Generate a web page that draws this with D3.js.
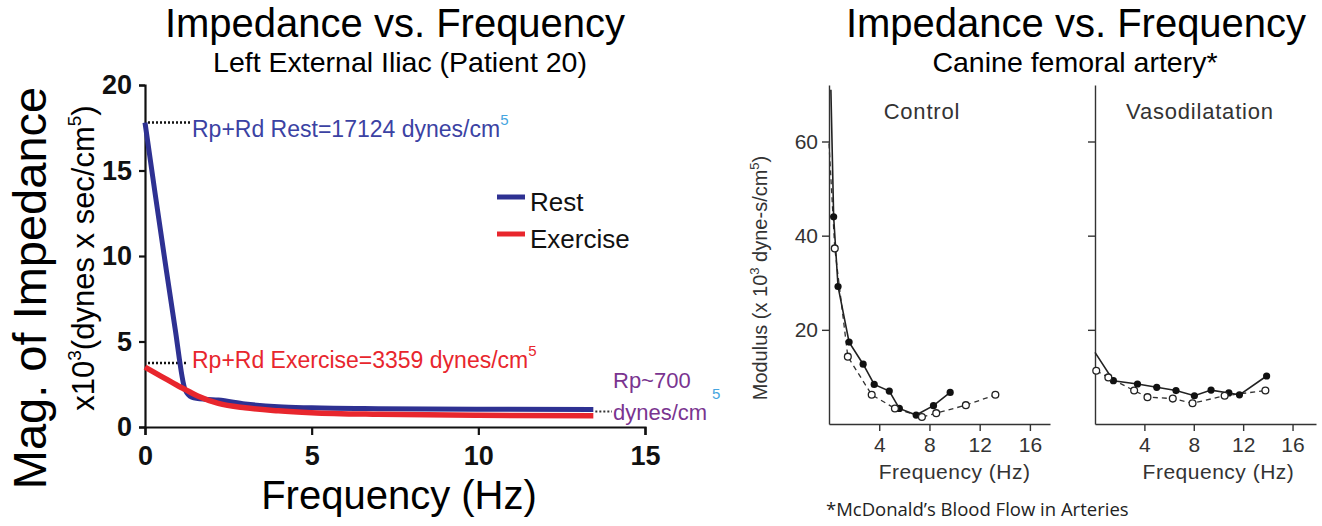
<!DOCTYPE html>
<html>
<head>
<meta charset="utf-8">
<script src="https://cdn.jsdelivr.net/npm/d3@7"></script>
<style>
body { margin: 0; background: #fff; }
svg text { font-family: "Liberation Sans", Arial, sans-serif; }
</style>
</head>
<body>
<svg id="chart" width="1322" height="526"></svg>
<script>
// ---- left chart data (x10^3 dynes*sec/cm^5) ----
var restFreq = [0, 0.3, 0.6, 0.9, 1.2, 1.4, 1.8, 2.2, 3, 4, 5, 7, 10, 13.45];
var restMag  = [17.8, 13.7, 9.7, 5.8, 2.2, 1.75, 1.62, 1.58, 1.35, 1.18, 1.12, 1.07, 1.04, 1.03];
var exFreq   = [0, 0.5, 1.0, 1.2, 1.6, 2.2, 3, 4, 5, 7, 10, 13.45];
var exMag    = [3.5, 2.95, 2.4, 2.2, 1.8, 1.38, 1.12, 0.95, 0.84, 0.74, 0.68, 0.66];
var leftXTicks = [0, 5, 10, 15];
var leftYTicks = [0, 5, 10, 15, 20];
var legendNames = ["Rest", "Exercise"];
var guideValues = [17.8, 3.75, 0.9];   // dotted guides: rest, exercise, Rp
var annoTexts = ["Rp+Rd Rest=17124 dynes/cm", "Rp+Rd Exercise=3359 dynes/cm"];

// ---- right chart data (McDonald, canine femoral artery, x10^3) ----
var panelNames = ["Control", "Vasodilatation"];
var ctrlSolidFreq = [0.15, 0.37, 0.72, 1.6, 2.72, 3.6, 4.8, 5.6, 6.94, 8.32, 9.65];
var ctrlSolidMod  = [71, 44.0, 29.2, 17.4, 12.7, 8.4, 7.0, 3.3, 1.9, 3.9, 6.7];
var ctrlOpenFreq  = [0, 0.46, 1.5, 3.4, 5.25, 7.4, 8.54, 10.9, 13.25];
var ctrlOpenMod   = [59.6, 37.3, 14.3, 6.2, 3.3, 1.5, 2.3, 4.0, 6.2];
var vasoSolidFreq = [0, 1.49, 3.44, 5.0, 6.56, 8.05, 9.4, 10.84, 11.7, 13.9];
var vasoSolidMod  = [15.2, 9.2, 8.5, 7.8, 7.1, 6.0, 7.2, 6.6, 6.2, 10.2];
var vasoOpenFreq  = [0.1, 1.08, 3.17, 4.25, 6.3, 7.9, 10.5, 13.8];
var vasoOpenMod   = [11.3, 9.9, 7.1, 5.7, 5.4, 4.4, 6.0, 7.1];
var rightXTicks = [4, 8, 12, 16];
var rightYTicks = [20, 40, 60];

var blue = "#2e3192", red = "#e8262d";

var svg = d3.select("#chart");
svg.append("rect").attr("width", 1322).attr("height", 526).attr("fill", "#fff");

function zip(xs, ys) {
    return xs.map(function(d, i) { return {f: d, v: ys[i]}; });
}

// =================== left chart ===================
var x = d3.scaleLinear().domain([0, 15]).range([145, 645]);
var y = d3.scaleLinear().domain([0, 20]).range([427, 85]);

svg.append("text")
    .attr("x", 395).attr("y", 37)
    .attr("text-anchor", "middle")
    .attr("font-size", 40)
    .text("Impedance vs. Frequency");
svg.append("text")
    .attr("x", 400).attr("y", 72)
    .attr("text-anchor", "middle")
    .attr("font-size", 28.5)
    .text("Left External Iliac (Patient 20)");

var xAxis = svg.append("g")
    .attr("transform", "translate(0," + y(0) + ")")
    .call(d3.axisBottom(x).tickValues(leftXTicks).tickSize(8).tickPadding(11));
var yAxis = svg.append("g")
    .attr("transform", "translate(" + x(0) + ",0)")
    .call(d3.axisLeft(y).tickValues(leftYTicks).tickSize(6).tickPadding(7));
[xAxis, yAxis].forEach(function(g) {
    g.selectAll("path, line").attr("stroke", "#111").attr("stroke-width", 2.2);
    g.selectAll("text")
        .attr("fill", "#111")
        .attr("font-size", 27)
        .attr("font-weight", "bold")
        .style("font-family", "'Liberation Sans', Arial, sans-serif");
});

// axis titles
svg.append("text")
    .attr("transform", "translate(46,288) rotate(-90)")
    .attr("text-anchor", "middle")
    .attr("font-size", 47)
    .text("Mag. of Impedance");
var yt2 = svg.append("text")
    .attr("transform", "translate(94,258) rotate(-90)")
    .attr("text-anchor", "middle")
    .attr("font-size", 31);
yt2.append("tspan").text("x10");
yt2.append("tspan").attr("font-size", 19).attr("dy", -13).text("3");
yt2.append("tspan").attr("dy", 13).text("(dynes x sec/cm");
yt2.append("tspan").attr("font-size", 19).attr("dy", -13).text("5");
yt2.append("tspan").attr("dy", 13).text(")");

svg.append("text")
    .attr("x", 399).attr("y", 509)
    .attr("text-anchor", "middle")
    .attr("font-size", 40)
    .text("Frequency (Hz)");

// dotted guides
svg.append("line")
    .attr("x1", x(0) + 3).attr("x2", 190)
    .attr("y1", y(guideValues[0])).attr("y2", y(guideValues[0]))
    .attr("stroke", "#111").attr("stroke-width", 2.5).attr("stroke-dasharray", "2,2");
svg.append("line")
    .attr("x1", x(0) + 3).attr("x2", 188)
    .attr("y1", y(guideValues[1])).attr("y2", y(guideValues[1]))
    .attr("stroke", "#111").attr("stroke-width", 2.5).attr("stroke-dasharray", "2,2");
svg.append("line")
    .attr("x1", x(restFreq[restFreq.length - 1]) + 2).attr("x2", 612)
    .attr("y1", y(guideValues[2])).attr("y2", y(guideValues[2]))
    .attr("stroke", "#333").attr("stroke-width", 2).attr("stroke-dasharray", "2,2");

var line = d3.line()
    .x(function(d) { return x(d.f); })
    .y(function(d) { return y(d.v); })
    .curve(d3.curveMonotoneX);

svg.append("path")
    .datum(zip(restFreq, restMag))
    .attr("fill", "none").attr("stroke", blue).attr("stroke-width", 5)
    .attr("d", line);
svg.append("path")
    .datum(zip(exFreq, exMag))
    .attr("fill", "none").attr("stroke", red).attr("stroke-width", 5.5)
    .attr("d", line);

// annotations
var a1 = svg.append("text")
    .attr("x", 192).attr("y", 137)
    .attr("font-size", 23).attr("fill", "#3b42a3");
a1.append("tspan").text(annoTexts[0]);
a1.append("tspan").attr("font-size", 15).attr("dy", -12).attr("fill", "#45a5e0").text("5");
var a2 = svg.append("text")
    .attr("x", 192).attr("y", 368)
    .attr("font-size", 23).attr("fill", red);
a2.append("tspan").text(annoTexts[1]);
a2.append("tspan").attr("font-size", 15).attr("dy", -12).text("5");

svg.append("text")
    .attr("x", 613).attr("y", 388)
    .attr("font-size", 22).attr("fill", "#7a3490")
    .text("Rp~700");
svg.append("text")
    .attr("x", 613).attr("y", 420)
    .attr("font-size", 22).attr("fill", "#7a3490")
    .text("dynes/cm");
svg.append("text")
    .attr("x", 712).attr("y", 399)
    .attr("font-size", 15).attr("fill", "#45a5e0")
    .text("5");

// legend
var legend = svg.selectAll(".legend")
    .data(legendNames)
    .enter().append("g")
    .attr("class", "legend")
    .attr("transform", function(d, i) { return "translate(497," + (197 + i * 37) + ")"; });
legend.append("line")
    .attr("x1", 0).attr("x2", 28)
    .attr("stroke", function(d, i) { return i == 0 ? blue : red; })
    .attr("stroke-width", 5);
legend.append("text")
    .attr("x", 33).attr("y", 14)
    .attr("font-size", 26).attr("fill", "#111")
    .text(function(d) { return d; });

// =================== right chart ===================
svg.append("text")
    .attr("x", 1076).attr("y", 37)
    .attr("text-anchor", "middle")
    .attr("font-size", 40)
    .text("Impedance vs. Frequency");
svg.append("text")
    .attr("x", 1075).attr("y", 72)
    .attr("text-anchor", "middle")
    .attr("font-size", 28.5)
    .text("Canine femoral artery*");

var ry = d3.scaleLinear().domain([0, 72]).range([424, 85]);
var panelX = [
    d3.scaleLinear().domain([0, 17.6]).range([829, 1050]),
    d3.scaleLinear().domain([0, 17.9]).range([1095, 1316])
];
var panelData = [
    {solid: zip(ctrlSolidFreq, ctrlSolidMod), open: zip(ctrlOpenFreq, ctrlOpenMod), openSkip: 1, nameAt: 7.4},
    {solid: zip(vasoSolidFreq, vasoSolidMod), open: zip(vasoOpenFreq, vasoOpenMod), openSkip: 0, nameAt: 8.5}
];

panelData.forEach(function(p, i) {
    var px = panelX[i];
    var g = svg.append("g");

    var ax = g.append("g")
        .attr("transform", "translate(0," + ry(0) + ")")
        .call(d3.axisBottom(px).tickValues(rightXTicks).tickSize(7).tickSizeOuter(0).tickPadding(6));
    var ay = g.append("g")
        .attr("transform", "translate(" + px(0) + ",0)")
        .call(d3.axisLeft(ry).tickValues(rightYTicks).tickSize(7).tickSizeOuter(0).tickPadding(4)
            .tickFormat(i == 0 ? d3.format("d") : ""));
    [ax, ay].forEach(function(a) {
        a.selectAll("path, line").attr("stroke", "#333").attr("stroke-width", 1.4);
        a.selectAll("text")
            .attr("fill", "#333").attr("font-size", 21)
            .style("font-family", "'Liberation Sans', Arial, sans-serif");
    });

    g.append("text")
        .attr("x", px(p.nameAt)).attr("y", 119)
        .attr("text-anchor", "middle")
        .attr("font-size", 22).attr("fill", "#333")
        .attr("letter-spacing", 0.8)
        .text(panelNames[i]);
    g.append("text")
        .attr("x", px(10)).attr("y", 479)
        .attr("text-anchor", "middle")
        .attr("font-size", 21).attr("fill", "#333")
        .attr("letter-spacing", 0.5)
        .text("Frequency (Hz)");

    var rline = d3.line()
        .x(function(d) { return px(d.f); })
        .y(function(d) { return ry(d.v); });

    g.append("path")
        .datum(p.open)
        .attr("fill", "none").attr("stroke", "#333").attr("stroke-width", 1.3)
        .attr("stroke-dasharray", "5,4")
        .attr("d", rline);
    g.append("path")
        .datum(p.solid)
        .attr("fill", "none").attr("stroke", "#222").attr("stroke-width", 1.6)
        .attr("d", rline);

    g.selectAll(".solid-dot")
        .data(p.solid.slice(1))
        .enter().append("circle")
        .attr("cx", function(d) { return px(d.f); })
        .attr("cy", function(d) { return ry(d.v); })
        .attr("r", 3.6)
        .attr("fill", "#111");
    g.selectAll(".open-dot")
        .data(p.open.slice(p.openSkip))
        .enter().append("circle")
        .attr("cx", function(d) { return px(d.f); })
        .attr("cy", function(d) { return ry(d.v); })
        .attr("r", 3.4)
        .attr("fill", "#fff").attr("stroke", "#222").attr("stroke-width", 1.3);
});

var mt = svg.append("text")
    .attr("transform", "translate(767,278) rotate(-90)")
    .attr("text-anchor", "middle")
    .attr("font-size", 20).attr("fill", "#333");
mt.append("tspan").text("Modulus (x 10");
mt.append("tspan").attr("font-size", 13).attr("dy", -8).text("3");
mt.append("tspan").attr("dy", 8).text(" dyne-s/cm");
mt.append("tspan").attr("font-size", 13).attr("dy", -8).text("5");
mt.append("tspan").attr("dy", 8).text(")");

svg.append("text")
    .attr("x", 826).attr("y", 516)
    .attr("font-size", 18.5).attr("fill", "#222")
    .style("font-family", "'Open Sans', sans-serif")
    .text("*McDonald\u2019s Blood Flow in Arteries");
</script>
</body>
</html>
